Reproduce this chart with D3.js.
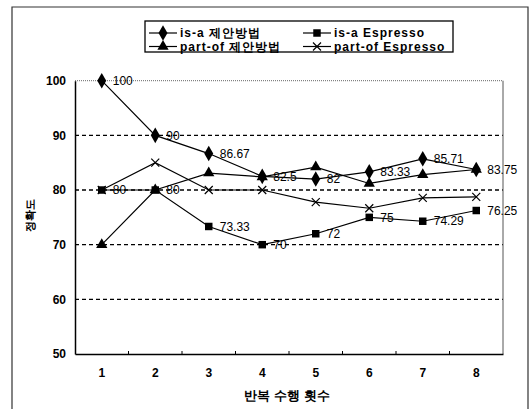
<!DOCTYPE html>
<html><head><meta charset="utf-8">
<script src="https://cdn.jsdelivr.net/npm/d3@7"></script>
<style>body{margin:0;background:#fff}svg{display:block}text{font-family:"Liberation Sans",Arial,sans-serif}</style>
</head><body><svg id="c" width="531" height="409"></svg>
<script>
const categories = ["1","2","3","4","5","6","7","8"];
const isaProposed = [100, 90, 86.67, 82.5, 82, 83.33, 85.71, 83.75];
const isaEspresso = [80, 80, 73.33, 70, 72, 75, 74.29, 76.25];
const partofProposed = [70, 80, 83.1, 82.4, 84.2, 81.2, 82.8, 83.75];
const partofEspresso = [80, 85, 80, 80, 77.78, 76.67, 78.57, 78.75];
const yTicks = [50, 60, 70, 80, 90, 100];
const seriesNames = ["is-a 제안방법", "is-a Espresso", "part-of 제안방법", "part-of Espresso"];
const xTitle = "반복 수행 횟수";
const yTitle = "정확도";

const svg = d3.select("#c");
const kr = "'Noto Sans CJK KR','Liberation Sans',Arial,sans-serif";
const L = 75, R = 503, T = 80.7, B = 354;
const x = d3.scaleBand().domain(categories).range([L, R]);
const y = d3.scaleLinear().domain([50, 100]).range([B, T]);
const cx = c => x(c) + x.bandwidth() / 2;

// outer frame
svg.append("path").attr("d", "M12,420 V7 H528 V420").attr("fill", "none").attr("stroke", "#333").attr("stroke-width", 1.2);

// gridlines
svg.append("g").selectAll("line").data(yTicks.filter(v => v > 50 && v < 100)).join("line")
  .attr("x1", L).attr("x2", R).attr("y1", d => y(d)).attr("y2", d => y(d))
  .attr("stroke", "#000").attr("stroke-width", 1.3).attr("stroke-dasharray", "4,3");
// top dotted border
svg.append("line").attr("x1", L).attr("x2", R).attr("y1", y(100)).attr("y2", y(100))
  .attr("stroke", "#666").attr("stroke-width", 1).attr("stroke-dasharray", "1,1");
// right border
svg.append("line").attr("x1", R).attr("x2", R).attr("y1", y(100)).attr("y2", B).attr("stroke", "#555").attr("stroke-width", 1);

// y axis
const ya = svg.append("g").attr("transform", `translate(${L},0)`)
  .call(d3.axisLeft(y).tickValues(yTicks).tickSize(0).tickPadding(9));
ya.select(".domain").attr("stroke", "#000").attr("stroke-width", 1.5);
ya.selectAll("text").attr("font-size", 12).attr("font-weight", "bold").attr("fill", "#000")
  .attr("font-family", "'Liberation Sans',Arial,sans-serif");

// x axis
const xa = svg.append("g").attr("transform", `translate(0,${B})`)
  .call(d3.axisBottom(x).tickSize(0).tickPadding(14));
xa.select(".domain").attr("stroke", "#000").attr("stroke-width", 1.6);
xa.selectAll("text").attr("font-size", 12).attr("font-weight", "bold").attr("fill", "#000")
  .attr("font-family", "'Liberation Sans',Arial,sans-serif");
svg.append("g").selectAll("line").data(categories.slice(1)).join("line")
  .attr("x1", d => x(d)).attr("x2", d => x(d)).attr("y1", B).attr("y2", B - 3)
  .attr("stroke", "#000").attr("stroke-width", 1);

// titles
svg.append("text").attr("x", 287).attr("y", 400).attr("text-anchor", "middle")
  .attr("font-size", 13).attr("font-weight", "bold").attr("font-family", kr).attr("fill", "#000").text(xTitle);
svg.append("text").attr("transform", "translate(34,215) rotate(-90)").attr("text-anchor", "middle")
  .attr("font-size", 11).attr("font-weight", "bold").attr("font-family", kr).attr("fill", "#000").text(yTitle);

// markers
const sym = {
  diamond: d3.symbol().type(d3.symbolDiamond).size(70),
  square: d3.symbol().type(d3.symbolSquare).size(56),
  triangle: d3.symbol().type(d3.symbolTriangle).size(55)
};
function marker(g, type, px, py) {
  if (type === "x") {
    const s = 4;
    g.append("path").attr("d", `M${px-s},${py-s}L${px+s},${py+s}M${px-s},${py+s}L${px+s},${py-s}`)
      .attr("stroke", "#000").attr("stroke-width", 1.2).attr("fill", "none");
  } else {
    g.append("path").attr("d", sym[type]()).attr("transform", `translate(${px},${py})`).attr("fill", "#000");
  }
}

const series = [
  {vals: isaProposed, m: "diamond", labels: true},
  {vals: isaEspresso, m: "square", labels: true},
  {vals: partofProposed, m: "triangle", labels: false},
  {vals: partofEspresso, m: "x", labels: false}
];
const line = d3.line().x((d, i) => cx(categories[i])).y(d => y(d));
series.forEach(s => {
  const g = svg.append("g");
  g.append("path").datum(s.vals).attr("d", line).attr("fill", "none").attr("stroke", "#000").attr("stroke-width", 1.2);
  s.vals.forEach((v, i) => marker(g, s.m, cx(categories[i]), y(v)));
  if (s.labels) {
    g.selectAll("text").data(s.vals).join("text")
      .attr("x", (d, i) => cx(categories[i]) + 11).attr("y", d => y(d)).attr("dy", "0.35em")
      .attr("font-size", 12).attr("fill", "#000").text(d => d);
  }
});

// legend
const lg = svg.append("g");
lg.append("rect").attr("x", 145).attr("y", 21).attr("width", 308).attr("height", 31)
  .attr("fill", "#fff").attr("stroke", "#000").attr("stroke-width", 1.3);
const lpos = [[149, 33], [303, 33], [149, 46.5], [303, 46.5]];
seriesNames.forEach((n, i) => {
  const [lx, ly] = lpos[i];
  lg.append("line").attr("x1", lx).attr("x2", lx + 28).attr("y1", ly).attr("y2", ly).attr("stroke", "#000").attr("stroke-width", 1.2);
  marker(lg, series[i].m, lx + 14, ly);
  lg.append("text").attr("x", lx + 31).attr("y", ly).attr("dy", "0.35em").attr("font-size", 12)
    .attr("letter-spacing", "1px").attr("font-weight", "bold").attr("font-family", kr).attr("fill", "#000").text(n);
});
</script></body></html>
